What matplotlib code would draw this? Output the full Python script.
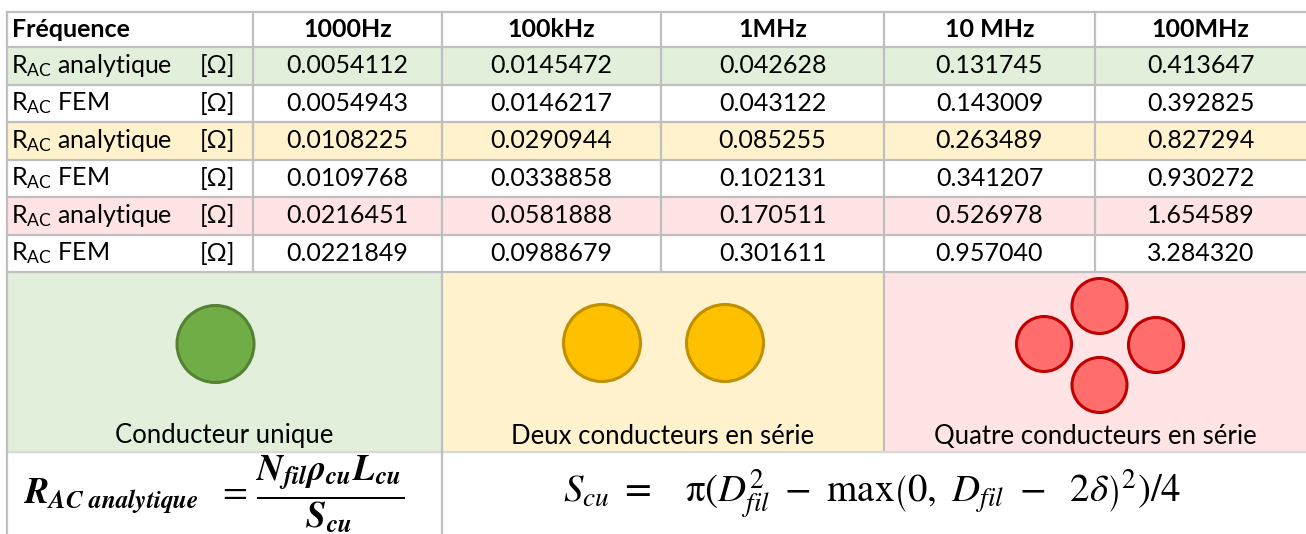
import matplotlib
matplotlib.use("Agg")
from matplotlib import pyplot as plt
from matplotlib.patches import Rectangle, Circle

plt.rcParams['font.family'] = ['Lato', 'DejaVu Sans']
plt.rcParams['mathtext.fontset'] = 'custom'
plt.rcParams['mathtext.rm'] = 'Lato'
plt.rcParams['mathtext.it'] = 'Lato:italic'
plt.rcParams['mathtext.bf'] = 'Lato:bold'

# donnees du tableau
frequences = ["1000Hz", "100kHz", "1MHz", "10 MHz", "100MHz"]
row_labels = ["analytique", "FEM", "analytique", "FEM", "analytique", "FEM"]
r_ana_1 = ["0.0054112", "0.0145472", "0.042628", "0.131745", "0.413647"]
r_fem_1 = ["0.0054943", "0.0146217", "0.043122", "0.143009", "0.392825"]
r_ana_2 = ["0.0108225", "0.0290944", "0.085255", "0.263489", "0.827294"]
r_fem_2 = ["0.0109768", "0.0338858", "0.102131", "0.341207", "0.930272"]
r_ana_4 = ["0.0216451", "0.0581888", "0.170511", "0.526978", "1.654589"]
r_fem_4 = ["0.0221849", "0.0988679", "0.301611", "0.957040", "3.284320"]
rows = [r_ana_1, r_fem_1, r_ana_2, r_fem_2, r_ana_4, r_fem_4]
conducteurs = ["Conducteur unique", "Deux conducteurs en série", "Quatre conducteurs en série"]

vert = '#E2EFDA'
jaune = '#FFF2CC'
rose = '#FFE3E5'
row_fill = [vert, 'white', jaune, 'white', rose, 'white']
grille = '#BFBFBF'

W, H = 1306, 534
fig = plt.figure(figsize=(W / 100, H / 100), dpi=100)
ax = fig.add_axes([0, 0, 1, 1])
ax.set_xlim(0, W)
ax.set_ylim(H, 0)
ax.axis('off')

xcol = [7, 253, 442, 661, 884, 1095, 1306]
y_top = 12
y_head = 47
row_h = 37.5
y_data_end = y_head + row_h * 6
y_pic_end = 452

fs = 18

# fonds des lignes
for i, c in enumerate(row_fill):
    y0 = y_head + i * row_h
    ax.add_patch(Rectangle((xcol[0], y0), W - xcol[0], row_h, color=c, zorder=0))

# zone des images
pic_fill = [vert, jaune, rose]
pic_x = [7, 442, 884, 1306]
for k in range(3):
    ax.add_patch(Rectangle((pic_x[k], y_data_end), pic_x[k + 1] - pic_x[k],
                           y_pic_end - y_data_end, color=pic_fill[k], zorder=0))

# en-tete
ax.text(12, (y_top + y_head) / 2, "Fréquence", fontsize=fs, fontweight='bold',
        va='center', ha='left')
for j, f in enumerate(frequences):
    xc = (xcol[j + 1] + xcol[j + 2]) / 2
    ax.text(xc, (y_top + y_head) / 2, f, fontsize=fs, fontweight='bold',
            va='center', ha='center')

# lignes de valeurs
for i, vals in enumerate(rows):
    yc = y_head + (i + 0.5) * row_h
    ax.text(11, yc, r"R$_{\mathrm{AC}}$ " + row_labels[i], fontsize=fs,
            va='center', ha='left', math_fontfamily='custom')
    ax.text(235, yc, "[Ω]", fontsize=fs, va='center', ha='right')
    for j, v in enumerate(vals):
        xc = (xcol[j + 1] + xcol[j + 2]) / 2
        ax.text(xc, yc, v, fontsize=fs, va='center', ha='center')

# grille
lw = 1.6
ax.plot([xcol[0], W], [y_top, y_top], color=grille, lw=lw)
for i in range(7):
    y = y_head + i * row_h
    ax.plot([xcol[0], W], [y, y], color=grille, lw=lw)
for x in xcol[:-1]:
    ax.plot([x, x], [y_top, y_data_end], color=grille, lw=lw)
for x in pic_x[:-1]:
    ax.plot([x, x], [y_data_end, y_pic_end], color=grille, lw=lw)
ax.plot([xcol[0], W], [y_pic_end, y_pic_end], color='#D9D9D9', lw=lw)
for x in [7, 442]:
    ax.plot([x, x], [y_pic_end, H], color=grille, lw=lw)

# conducteurs
r_big = 38.5
r_small = 27.5
ax.add_patch(Circle((215.5, 344), r_big, fc='#70AD47', ec='#548235', lw=2.2))
for xc in [602, 725]:
    ax.add_patch(Circle((xc, 343), r_big, fc='#FFC000', ec='#BF9000', lw=2.2))
for (xc, yc) in [(1099.5, 306), (1044, 344), (1156, 345), (1099.5, 385)]:
    ax.add_patch(Circle((xc, yc), r_small, fc='#FF6D6D', ec='#C00000', lw=2.2))

for k, t in enumerate(conducteurs):
    ax.text((pic_x[k] + pic_x[k + 1]) / 2, 436, t, fontsize=fs + 0.5, va='center', ha='center')

# formules
f1 = (r"$\mathbfit{R}_{\mathbfit{AC\ analytique}}\ \ =\,\dfrac{\mathbfit{N}_{\mathbfit{fil}}"
      r"\mathbfit{\rho}_{\mathbfit{cu}}\mathbfit{L}_{\mathbfit{cu}}}{\mathbfit{S}_{\mathbfit{cu}}}$")
ax.text(214, 494, f1, fontsize=26, va='center', ha='center', math_fontfamily='stix')
f2 = (r"$S_{cu}\ =\ \ \ \mathrm{\pi}(D_{fil}^2\ -\ \mathrm{max}\left(0,\ D_{fil}\ -\ \ 2\delta\right)^2)/4$")
ax.text(872, 494, f2, fontsize=28, va='center', ha='center', math_fontfamily='stix')

fig.savefig("out.png", dpi=100)
